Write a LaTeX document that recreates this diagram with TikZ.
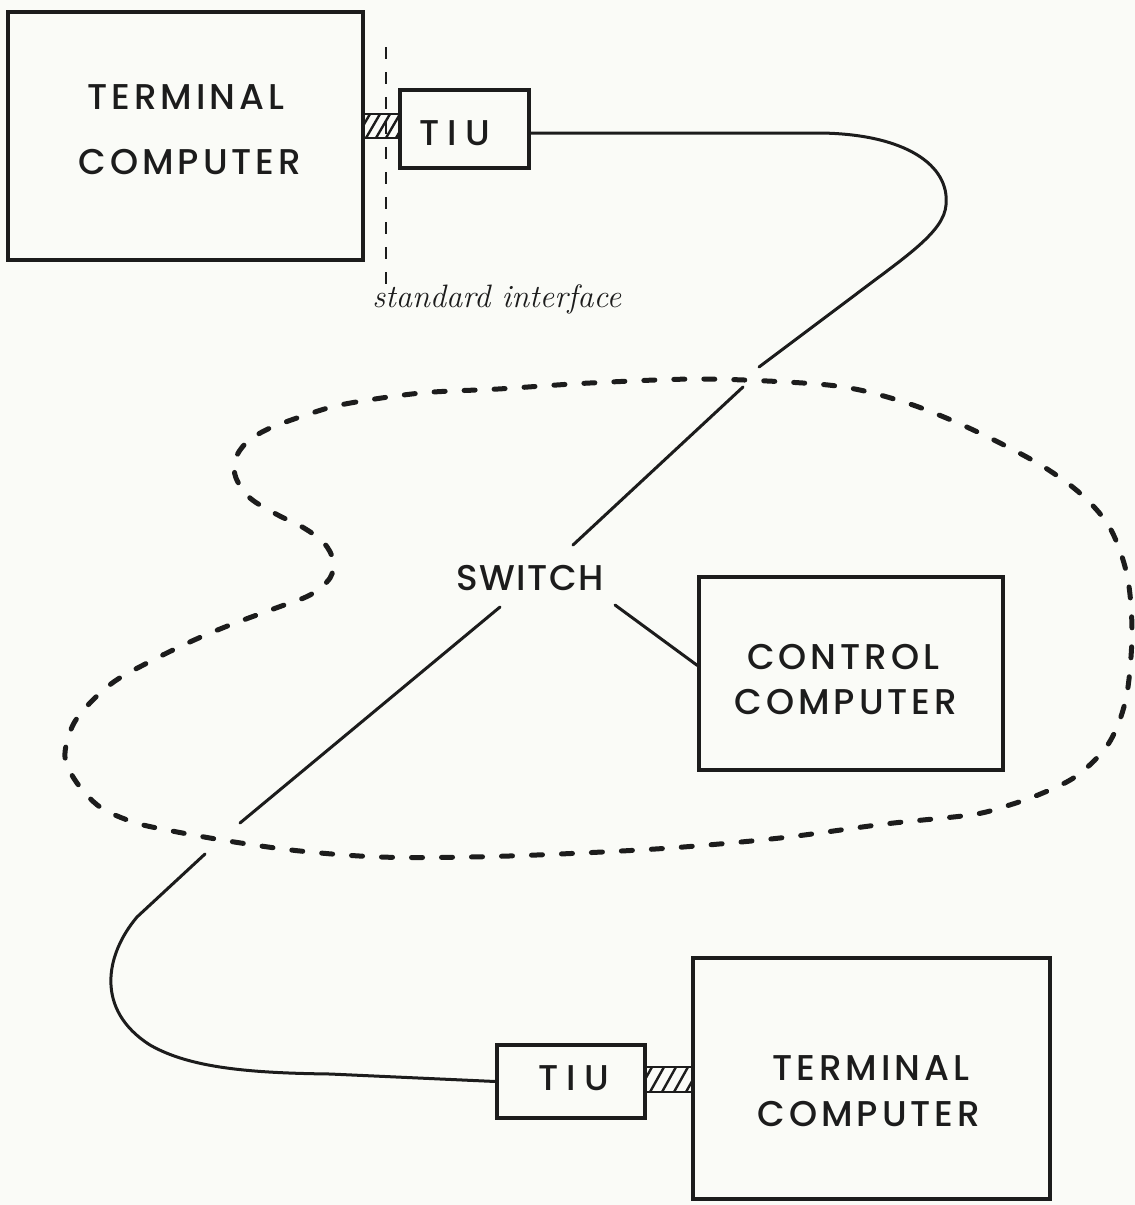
\documentclass[tikz,border=0pt]{standalone}
\usepackage{fontspec}
\newfontfamily\lblfont[LetterSpace=11, UprightFont={* Medium}]{Poppins}
\newfontfamily\swfont[LetterSpace=4, UprightFont={* Medium}]{Poppins}
\newfontfamily\tiufont[LetterSpace=22, UprightFont={* Medium}]{Poppins}
\usetikzlibrary{fit}
\definecolor{paper}{RGB}{250,251,247}
\definecolor{ink}{RGB}{28,28,28}
\begin{document}
\begin{tikzpicture}[x=0.5pt,y=-0.5pt,
  box/.style={draw=ink, line width=1.6pt, inner sep=0pt},
  lbltxt/.style={text=ink, font=\lblfont\fontsize{17.9}{20}\selectfont, inner sep=0pt},
  swtxt/.style={text=ink, font=\swfont\fontsize{17.9}{20}\selectfont, inner sep=0pt},
  tiutxt/.style={text=ink, font=\tiufont\fontsize{17.9}{20}\selectfont, inner sep=0pt},
  wire/.style={draw=ink, line width=1.5pt, line cap=round, line join=round},
  net/.style={draw=ink, line width=2.5pt, line cap=round, dash pattern=on 5.5pt off 9.5pt},
  iface/.style={draw=ink, line width=1pt, dash pattern=on 6pt off 6.5pt},
  hatchline/.style={draw=ink, line width=1.2pt}]
\fill[paper] (0,0) rectangle (1135,1205);
\useasboundingbox (0,0) rectangle (1135,1205);

% top terminal computer and TIU
\node[box, fit={(8,12) (363,260)}] (tc1) {};
\node[lbltxt] (tc1a) at (186,97) {TERMINAL};
\node[lbltxt] (tc1b) at (190,162) {COMPUTER};
\node[box, fit={(400,90) (529,168)}] (tiu1) {};
\node[tiutxt] (tiu1t) at (455,133) {TIU};
% hatched plug (top)
\draw[hatchline] (363,114) -- (400,114) (363,138) -- (400,138);
\begin{scope}
  \clip (363,114) rectangle (400,138);
  \foreach \x in {356,366,...,406} \draw[hatchline] (\x,138) -- (\x+14,114);
\end{scope}
% standard interface
\coordinate (ifTop) at (386,47);
\coordinate (ifBot) at (386,290);
\draw[iface] (ifTop) -- (ifBot);
\node[anchor=base west, inner sep=0pt, text=ink, font=\itshape\fontsize{16.2}{17}\selectfont] (iflbl) at (372,307) {standard interface};

% control computer
\node[box, fit={(699,577) (1003,770)}] (ctrl) {};
\node[lbltxt] (ctrla) at (843,657) {CONTROL};
\node[lbltxt] (ctrlb) at (846,702) {COMPUTER};

% bottom terminal computer and TIU
\node[box, fit={(693,958) (1050,1199)}] (tc2) {};
\node[lbltxt] (tc2a) at (871,1068) {TERMINAL};
\node[lbltxt] (tc2b) at (869,1114) {COMPUTER};
\node[box, fit={(497,1045) (645,1118)}] (tiu2) {};
\node[tiutxt] (tiu2t) at (574,1078) {TIU};
\draw[hatchline] (645,1067) rectangle (693,1092);
\begin{scope}
  \clip (645,1067) rectangle (693,1092);
  \foreach \x in {638,650,...,698} \draw[hatchline] (\x,1092) -- (\x+14,1067);
\end{scope}

% switch
\node[swtxt] (sw) at (530,578) {SWITCH};
\coordinate (swTR) at (573,545);
\coordinate (swBL) at (500,607);
\coordinate (swR) at (615,605);

% network boundary
\draw[net] plot[smooth cycle, tension=0.55] coordinates {
 (306,415) (345,404) (421,393) (498,389) (590,383) (700,379) (803,383)
 (855,389) (907,403) (951,420) (996,441) (1044,467) (1082,495) (1110,528)
 (1127,575) (1132,630) (1128,687) (1119,722) (1104,750) (1075,777)
 (1038,795) (1003,807) (970,815) (885,824) (780,838) (670,848) (560,854)
 (470,857) (380,857) (300,851) (228,841) (167,830) (133,822) (100,807)
 (77,783) (65,757) (72,727) (88,705) (115,681) (153,660) (192,641)
 (230,625) (276,608) (310,595) (330,578) (333,560) (324,543) (304,528)
 (276,514) (250,498) (236,478) (235,460) (246,443) (268,429)};

% connections
\draw[wire] ([yshift=-2pt]tiu1.east) -- (820,133) .. controls (905,134) and (950,165) .. (946,205)
  .. controls (944,232) and (905,257) .. (855,295) -- (759,367);
\draw[wire] (743,387) -- (swTR);
\draw[wire] (swR) -- ([yshift=4pt]ctrl.west);
\draw[wire] (swBL) -- (240,823);
\draw[wire] (205,854) -- (137,917) .. controls (105,955) and (95,1010) .. (150,1045)
  .. controls (190,1068) and (250,1073) .. (330,1074) -- (tiu2.west);
\end{tikzpicture}
\end{document}
